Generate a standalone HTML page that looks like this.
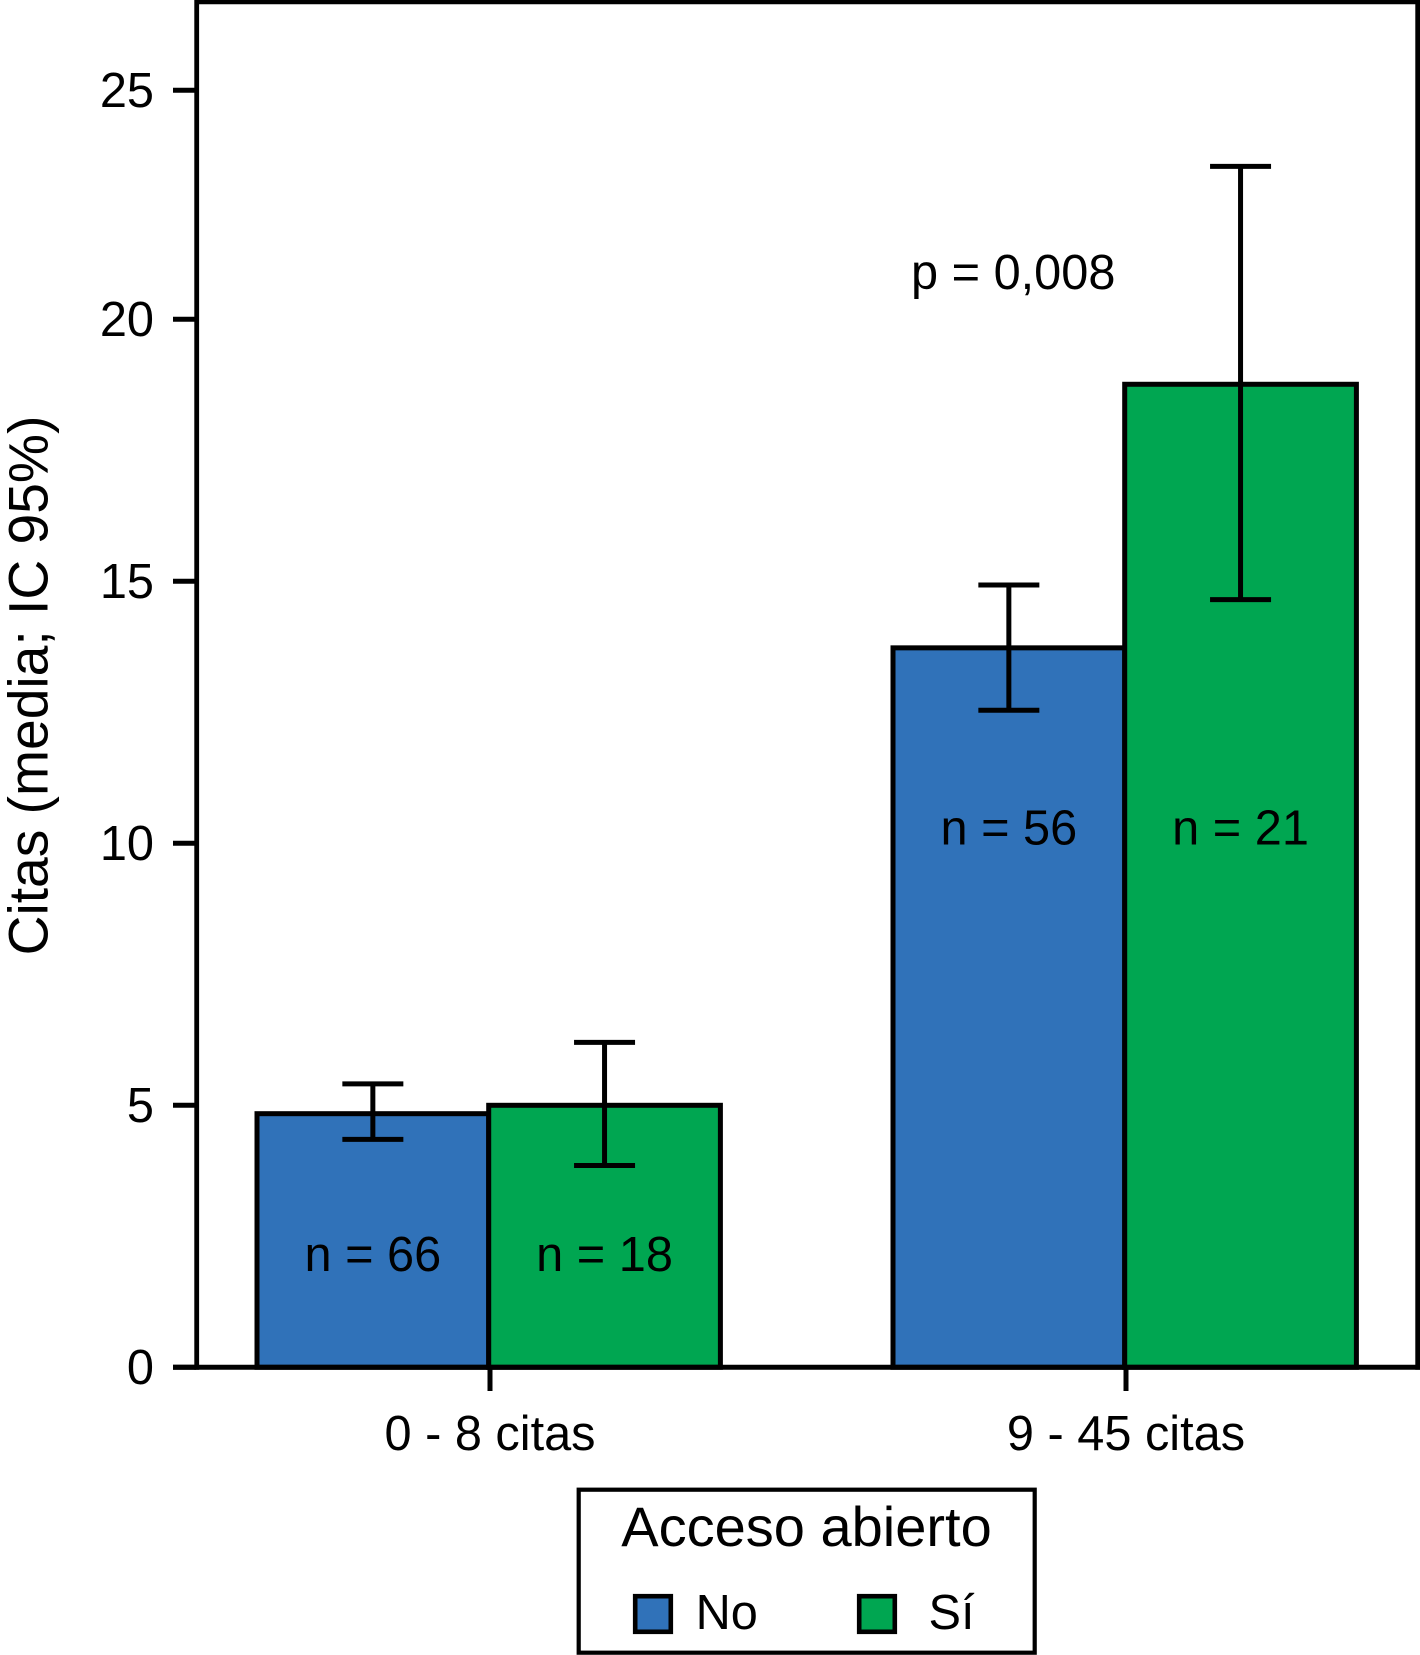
<!DOCTYPE html>
<html lang="es">
<head>
<meta charset="utf-8">
<title>Citas por acceso abierto</title>
<style>
html,body{margin:0;padding:0;background:#fff;width:1420px;height:1655px;overflow:hidden}
svg{display:block}
text{font-family:"Liberation Sans",Arial,sans-serif;fill:#000;font-size:48.7px}
</style>
</head>
<body>
<svg id="chart" xmlns="http://www.w3.org/2000/svg" width="1420" height="1655" viewBox="0 0 1420 1655">
  <rect x="0" y="0" width="1420" height="1655" fill="#fff"/>
  <g id="bars"></g>
  <g id="errors"></g>
  <g id="axes">
    <line x1="194.5" y1="2" x2="1420" y2="2" stroke="#000" stroke-width="4.6"/>
    <line x1="196.7" y1="0" x2="196.7" y2="1369.8" stroke="#000" stroke-width="4.8"/>
    <line x1="1417.7" y1="0" x2="1417.7" y2="1369.8" stroke="#000" stroke-width="4.8"/>
    <line x1="173" y1="1367.3" x2="1420" y2="1367.3" stroke="#000" stroke-width="5"/>
  </g>
  <g id="ticks"></g>
  <g id="labels"></g>
  <text transform="translate(47.5 685.5) rotate(-90)" text-anchor="middle" style="font-size:55.2px">Citas (media; IC 95%)</text>
  <text x="911" y="288.8">p = 0,008</text>
  <g>
    <rect x="578.7" y="1489.7" width="456" height="163" fill="#fff" stroke="#000" stroke-width="4.2"/>
    <text x="806.5" y="1546" text-anchor="middle" style="font-size:56px">Acceso abierto</text>
    <rect x="635.2" y="1596.2" width="35.6" height="35.6" fill="#3072b9" stroke="#000" stroke-width="4.6"/>
    <text x="695.6" y="1629">No</text>
    <rect x="859.2" y="1596.2" width="35.6" height="35.6" fill="#00a651" stroke="#000" stroke-width="4.6"/>
    <text x="928.5" y="1629">Sí</text>
  </g>
</svg>
<script>
const categories = ["0 - 8 citas", "9 - 45 citas"];
const noMeans = [4.84, 13.73];
const siMeans = [5.0, 18.76];
const noLower = [4.35, 12.54];
const noUpper = [5.41, 14.93];
const siLower = [3.85, 14.65];
const siUpper = [6.2, 23.34];
const noCounts = ["n = 66", "n = 56"];
const siCounts = ["n = 18", "n = 21"];
const countLabelValues = [1.84, 9.98];
const yTickValues = [0, 5, 10, 15, 20, 25];

const NS = "http://www.w3.org/2000/svg";
const BLUE = "#3072b9";
const GREEN = "#00a651";
const BAR_WIDTH = 231.7;
const CAP_HALF = 30.5;

/* The reference's y axis is compressed above 20 (the 25 tick sits closer). */
function yScale(v) {
  if (v <= 20) return 1367.3 - 52.4 * v;
  return 319.3 - 45.8 * (v - 20);
}
function xCenter(i) {
  return 490 + 636 * i;
}
function make(tag, attrs, parent, content) {
  const el = document.createElementNS(NS, tag);
  for (const k in attrs) el.setAttribute(k, attrs[k]);
  if (content !== undefined) el.textContent = content;
  parent.appendChild(el);
  return el;
}

const barsG = document.getElementById("bars");
const errorsG = document.getElementById("errors");
const ticksG = document.getElementById("ticks");
const labelsG = document.getElementById("labels");

function drawBar(i, offset, value, fill, key) {
  const left = xCenter(i) - 1.3 + offset;
  const top = yScale(value);
  const el = make("rect", {x: left, y: top, width: BAR_WIDTH, height: yScale(0) - top, fill: fill, stroke: "#000", "stroke-width": 5}, barsG);
  
  
}
function drawError(i, offset, low, high, key) {
  const cx = xCenter(i) - 1.3 + offset + BAR_WIDTH / 2;
  const g = make("g", {stroke: "#000", "stroke-width": 5}, errorsG);
  
  
  make("line", {x1: cx, x2: cx, y1: yScale(high), y2: yScale(low)}, g);
  make("line", {x1: cx - CAP_HALF, x2: cx + CAP_HALF, y1: yScale(high), y2: yScale(high)}, g);
  make("line", {x1: cx - CAP_HALF, x2: cx + CAP_HALF, y1: yScale(low), y2: yScale(low)}, g);
}
function drawCount(i, offset, text, key) {
  const cx = xCenter(i) - 1.3 + offset + BAR_WIDTH / 2;
  const el = make("text", {x: cx, y: yScale(countLabelValues[i]), "text-anchor": "middle"}, labelsG, text);
  
  
}

categories.forEach(function (cat, i) {
  drawBar(i, -BAR_WIDTH, noMeans[i], BLUE, 'no');
  drawBar(i, 0, siMeans[i], GREEN, 'si');
  drawError(i, -BAR_WIDTH, noLower[i], noUpper[i], 'no');
  drawError(i, 0, siLower[i], siUpper[i], 'si');
  drawCount(i, -BAR_WIDTH, noCounts[i], 'no');
  drawCount(i, 0, siCounts[i], 'si');

  const tick = make("line", {x1: xCenter(i), x2: xCenter(i), y1: 1367.3, y2: 1391, stroke: "#000", "stroke-width": 5}, ticksG);
  
  
  const lab = make("text", {x: xCenter(i), y: 1450, "text-anchor": "middle"}, ticksG, cat);
  
  
});

yTickValues.forEach(function (v) {
  const y = yScale(v);
  const tick = make("line", {x1: 173, x2: 196, y1: y, y2: y, stroke: "#000", "stroke-width": 5}, ticksG);
  
  
  const lab = make("text", {x: 154, y: y + 16.5, "text-anchor": "end"}, ticksG, String(v));
  
  
});
</script>
</body>
</html>
